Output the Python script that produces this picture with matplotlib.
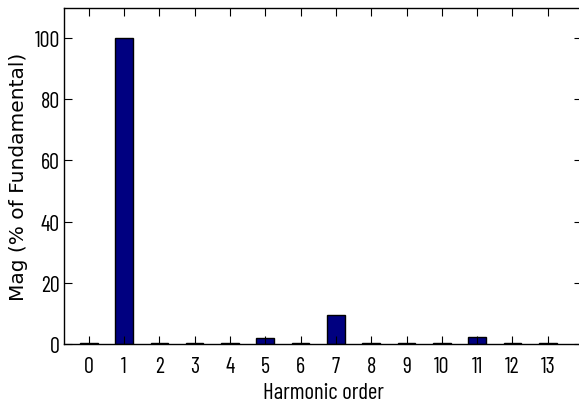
import matplotlib
matplotlib.use('Agg')
import matplotlib.pyplot as plt

orders = list(range(14))
mags = [0.4, 100, 0.4, 0.4, 0.4, 1.9, 0.4, 9.4, 0.4, 0.4, 0.4, 2.4, 0.4, 0.4]
yticks = [0, 20, 40, 60, 80, 100]

narrow = 'Barlow Condensed'

fig = plt.figure(figsize=(5.79, 4.10), dpi=100)
# right spine sits just past the image edge, as in the cropped original
ax = fig.add_axes([64/579, 1 - 345/410, 518/579, 336/410])

ax.bar(orders, mags, width=0.5, color='#000080', edgecolor='black', linewidth=1.0)

ax.set_xlim(-0.7, 13.97)
ax.set_ylim(0, 109.8)
ax.set_xticks(orders)
ax.set_yticks(yticks)
ax.tick_params(direction='in', top=True, right=True, length=5.5, width=0.8,
               labelsize=16)
ax.tick_params(axis='x', pad=9)
ax.tick_params(axis='y', pad=3)
for lab in ax.get_xticklabels() + ax.get_yticklabels():
    lab.set_family(narrow)
for s in ax.spines.values():
    s.set_linewidth(1.0)

ax.set_xlabel('Harmonic order', fontsize=16.5, family=narrow, labelpad=3)
ax.set_ylabel('Mag (% of Fundamental)', fontsize=14.5, family='DejaVu Sans', labelpad=5)

fig.savefig('out.png', dpi=100)
